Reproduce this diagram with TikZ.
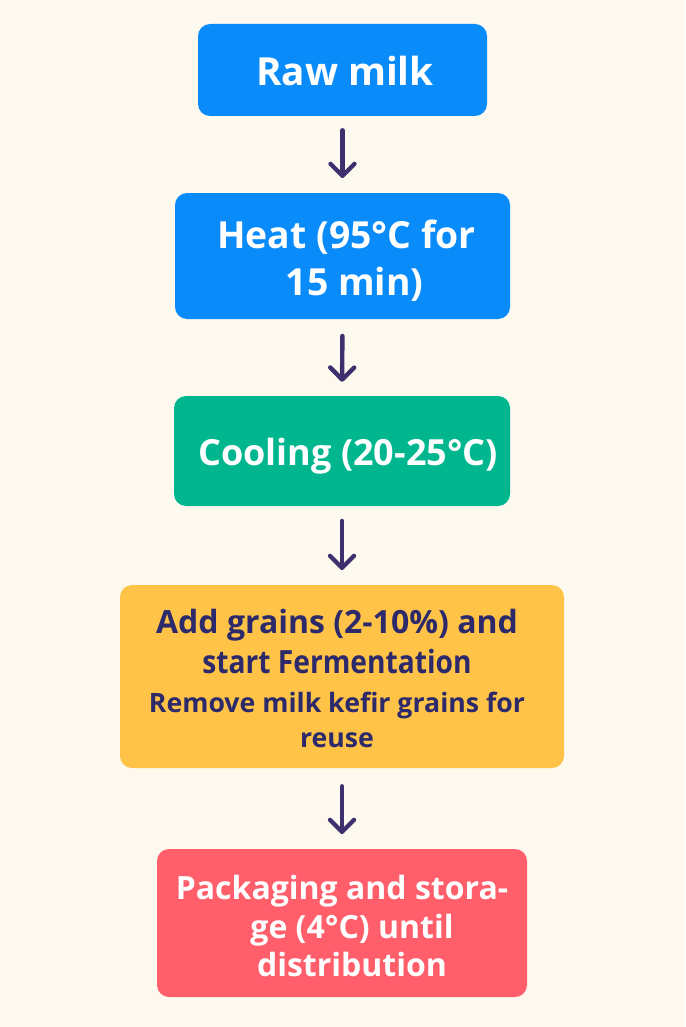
\documentclass[tikz,border=0pt]{standalone}
\usepackage{fontspec}
\setmainfont{Open Sans}
\usetikzlibrary{arrows.meta}
\definecolor{bg}{HTML}{FDF9EF}
\definecolor{cblue}{HTML}{0A8BFA}
\definecolor{cgreen}{HTML}{00B68E}
\definecolor{cyellow}{HTML}{FFC447}
\definecolor{cred}{HTML}{FF5E6A}
\definecolor{navy}{HTML}{2D2A6B}
\definecolor{arrowc}{HTML}{3E2F6E}
\tikzset{
  box/.style={rounded corners=9pt, inner sep=0pt},
  boxtext/.style={inner sep=0pt, align=center},
  flow/.style={draw=arrowc, line width=3.3pt, line cap=round,
    -{Straight Barb[length=9pt, width=18pt, line width=3.3pt, line cap=round, round]}}
}
\begin{document}
\begin{tikzpicture}[x=0.75pt,y=-0.75pt]
\fill[bg] (0,0) rectangle (685,1027);
\useasboundingbox (0,0) rectangle (685,1027);
\node[box, fill=cblue, minimum width=289*0.75pt, minimum height=92*0.75pt,
  label={[boxtext, text=white, font=\bfseries\fontsize{29pt}{34pt}\selectfont, yshift=-1pt]center:\hspace{3.75pt}Raw milk}]
  (raw) at (342.5,70) {};
\node[box, fill=cblue, minimum width=335*0.75pt, minimum height=126*0.75pt,
  label={[boxtext, text=white, font=\bfseries\fontsize{28pt}{35.25pt}\selectfont, yshift=-3.75pt]center:\hspace{6pt}Heat (95°C for\\ \hspace{18pt}15 min)}]
  (heat) at (342.5,256) {};
\node[box, fill=cgreen, minimum width=336*0.75pt, minimum height=110*0.75pt,
  label={[boxtext, text=white, font=\bfseries\fontsize{27pt}{32pt}\selectfont, yshift=-3.75pt]center:\hspace{9pt}Cooling (20-25°C)}]
  (cool) at (342,451) {};
\node[box, fill=cyellow, minimum width=444*0.75pt, minimum height=183*0.75pt,
  label={[boxtext, text=navy, font=\bfseries\fontsize{24pt}{30pt}\selectfont, yshift=-1.5pt, xshift=-3.75pt]center:Add grains (2-10\%) and\\%
   \addfontfeatures{FakeStretch=0.88}start Fermentation\\[-0.75pt]%
   \fontsize{20pt}{26pt}\selectfont Remove milk kefir grains for\\[-3.75pt]%
   \fontsize{20pt}{26pt}\selectfont reuse}]
  (ferm) at (342,676.5) {};
\node[box, fill=cred, minimum width=370*0.75pt, minimum height=148*0.75pt,
  label={[boxtext, text=white, font=\bfseries\fontsize{24pt}{29pt}\selectfont, yshift=-2.25pt]center:Packaging and stora-\\ \hspace{15pt}ge (4°C) until\\ \hspace{15pt}distribution}]
  (pack) at (342,923) {};
\draw[flow, shorten <=10.5pt, shorten >=11pt] (raw.south) -- (heat.north);
\draw[flow, shorten <=12.5pt, shorten >=10.5pt] (heat.south) -- (cool.north);
\draw[flow, shorten <=11pt, shorten >=11pt] (cool.south) -- (ferm.north);
\draw[flow, shorten <=13.5pt, shorten >=11pt] (ferm.south) -- (pack.north);
\end{tikzpicture}
\end{document}
